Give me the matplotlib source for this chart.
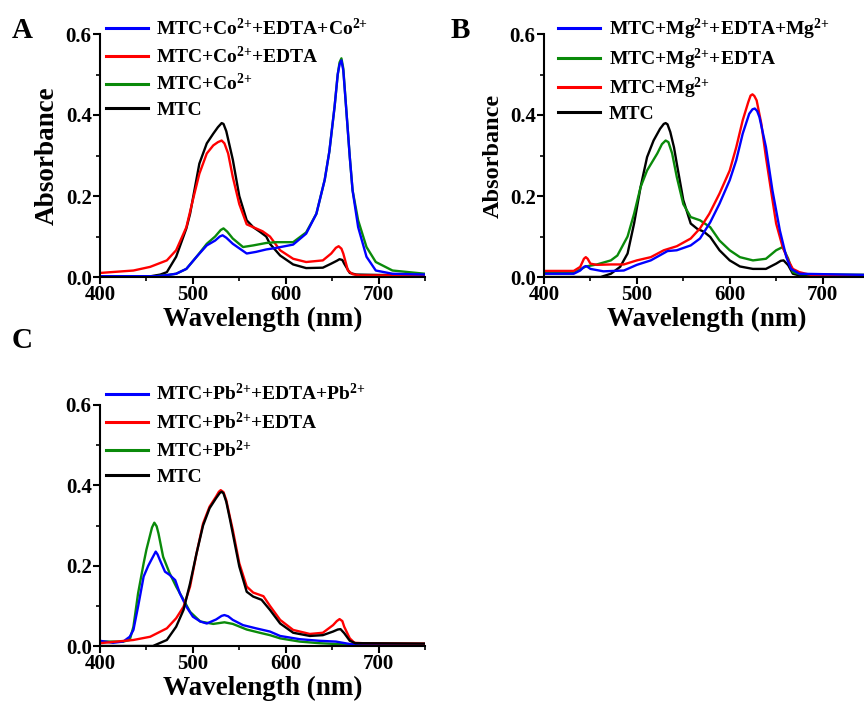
import matplotlib
matplotlib.use("Agg")
import matplotlib.pyplot as plt
from matplotlib.ticker import MultipleLocator, FormatStrFormatter

plt.rcParams['font.family'] = ['Liberation Serif', 'DejaVu Serif']
plt.rcParams['font.weight'] = 'bold'
plt.rcParams['mathtext.fontset'] = 'custom'
plt.rcParams['mathtext.rm'] = 'Liberation Serif:bold'
plt.rcParams['mathtext.it'] = 'Liberation Serif:bold:italic'
plt.rcParams['mathtext.bf'] = 'Liberation Serif:bold'
plt.rcParams['mathtext.default'] = 'rm'

# ---------------- Panel A (Co2+) ----------------
A_MTC_wl = [400, 455, 465, 472, 482, 493, 497, 507, 515, 522, 527, 531, 533, 536, 540, 543, 550, 558, 565, 572, 579, 583, 594, 608, 622, 640, 649, 655, 658, 661, 663, 669, 676, 700, 750]
A_MTC_abs = [0.002, 0.002, 0.006, 0.012, 0.05, 0.12, 0.156, 0.28, 0.33, 0.354, 0.37, 0.38, 0.378, 0.36, 0.32, 0.29, 0.2, 0.14, 0.123, 0.112, 0.1, 0.082, 0.053, 0.031, 0.022, 0.023, 0.033, 0.04, 0.044, 0.042, 0.033, 0.01, 0.006, 0.005, 0.005]

A_Co_wl = [400, 460, 470, 482, 493, 504, 515, 524, 530, 533, 537, 543, 554, 565, 579, 590, 608, 622, 633, 642, 647, 652.6, 656, 658, 660, 662, 665, 669, 672, 678, 687, 697, 715, 750]
A_Co_abs = [0.002, 0.002, 0.004, 0.008, 0.02, 0.05, 0.082, 0.1, 0.116, 0.12, 0.112, 0.095, 0.074, 0.078, 0.084, 0.086, 0.086, 0.11, 0.156, 0.24, 0.31, 0.42, 0.5, 0.53, 0.54, 0.515, 0.42, 0.296, 0.214, 0.14, 0.074, 0.037, 0.016, 0.008]

A_EDTA_wl = [400, 436, 454, 472, 482, 493, 500, 507, 515, 522, 527, 531, 534, 538, 543, 550, 558, 568, 575, 583, 594, 608, 622, 640, 649, 654, 657, 660, 662, 667, 672, 680, 750]
A_EDTA_abs = [0.01, 0.016, 0.025, 0.041, 0.066, 0.123, 0.19, 0.255, 0.305, 0.325, 0.333, 0.337, 0.33, 0.305, 0.247, 0.18, 0.13, 0.12, 0.113, 0.1, 0.066, 0.045, 0.037, 0.041, 0.058, 0.072, 0.076, 0.07, 0.058, 0.016, 0.007, 0.004, 0.004]

A_CoCo_wl = [400, 460, 470, 482, 493, 504, 515, 524, 529, 532, 536, 543, 558, 568, 579, 590, 608, 622, 633, 642, 647, 652.6, 656, 658, 660, 662, 665, 669, 672, 678, 687, 697, 715, 750]
A_CoCo_abs = [0.002, 0.002, 0.004, 0.008, 0.02, 0.05, 0.078, 0.09, 0.1, 0.103, 0.097, 0.082, 0.058, 0.062, 0.068, 0.072, 0.08, 0.107, 0.156, 0.24, 0.31, 0.42, 0.5, 0.525, 0.535, 0.51, 0.42, 0.296, 0.214, 0.123, 0.05, 0.016, 0.008, 0.006]

# ---------------- Panel B (Mg2+) ----------------
B_MTC_wl = [400, 461, 472, 482, 490, 497, 504, 511, 518, 525, 529, 531, 533, 536, 540, 543, 550, 558, 565, 572, 579, 589, 600, 611, 625, 639, 650, 655, 658, 663, 668, 675, 750]
B_MTC_abs = [0.0, 0.0, 0.008, 0.025, 0.058, 0.132, 0.222, 0.296, 0.337, 0.366, 0.378, 0.38, 0.377, 0.358, 0.32, 0.28, 0.19, 0.132, 0.119, 0.112, 0.099, 0.066, 0.041, 0.026, 0.02, 0.02, 0.033, 0.04, 0.041, 0.029, 0.008, 0.004, 0.005]

B_Mg_wl = [400, 432, 439, 443, 445, 447, 450, 457, 472, 486, 500, 515, 529, 543, 558, 568, 578, 589, 600, 607, 614, 620, 622.5, 624.5, 626.5, 629, 634, 639, 645, 650, 657, 663, 668, 675, 682, 690, 750]
B_Mg_abs = [0.015, 0.015, 0.025, 0.045, 0.049, 0.045, 0.033, 0.03, 0.031, 0.031, 0.041, 0.049, 0.066, 0.076, 0.095, 0.12, 0.156, 0.206, 0.263, 0.32, 0.387, 0.432, 0.448, 0.451, 0.447, 0.436, 0.379, 0.296, 0.206, 0.132, 0.074, 0.041, 0.02, 0.012, 0.008, 0.004, 0.004]

B_EDTA_wl = [400, 432, 445, 457, 472, 479, 490, 497, 504, 511, 522, 527, 531, 534, 538, 543, 550, 558, 568, 579, 589, 600, 611, 625, 639, 650, 657, 663, 668, 675, 750]
B_EDTA_abs = [0.01, 0.01, 0.026, 0.031, 0.041, 0.053, 0.1, 0.156, 0.222, 0.263, 0.305, 0.328, 0.337, 0.333, 0.305, 0.247, 0.18, 0.148, 0.14, 0.123, 0.09, 0.066, 0.049, 0.041, 0.045, 0.066, 0.074, 0.045, 0.012, 0.007, 0.005]

B_MgMg_wl = [400, 432, 439, 443, 445, 447, 450, 464, 486, 500, 515, 533, 543, 558, 568, 579, 589, 600, 607, 614, 621, 624.5, 627, 629.5, 632, 639, 646, 654, 661, 666, 675, 750]
B_MgMg_abs = [0.008, 0.008, 0.016, 0.025, 0.027, 0.025, 0.02, 0.014, 0.016, 0.03, 0.041, 0.064, 0.066, 0.078, 0.095, 0.135, 0.181, 0.239, 0.288, 0.354, 0.403, 0.414, 0.416, 0.41, 0.395, 0.321, 0.214, 0.115, 0.049, 0.02, 0.008, 0.005]

# ---------------- Panel C (Pb2+) ----------------
C_MTC_wl = [400, 457, 472, 482, 490, 497, 504, 511, 518, 525, 529, 531, 533, 536, 540, 543, 550, 558, 565, 574, 583, 594, 608, 626, 640, 651, 656, 659, 663, 669, 675, 750]
C_MTC_abs = [0.0, 0.0, 0.015, 0.048, 0.09, 0.156, 0.231, 0.3, 0.343, 0.368, 0.381, 0.384, 0.38, 0.359, 0.315, 0.28, 0.198, 0.135, 0.123, 0.115, 0.09, 0.056, 0.033, 0.025, 0.027, 0.036, 0.041, 0.042, 0.032, 0.013, 0.007, 0.006]

C_Pb_wl = [400, 425, 432, 436, 441, 447, 450, 456, 458.5, 461, 463, 468, 475, 482, 490, 497, 508, 522, 534, 543, 558, 572, 583, 594, 615, 636, 654, 680, 750]
C_Pb_abs = [0.011, 0.011, 0.015, 0.048, 0.131, 0.206, 0.24, 0.295, 0.307, 0.298, 0.28, 0.222, 0.181, 0.148, 0.115, 0.085, 0.061, 0.055, 0.059, 0.055, 0.041, 0.033, 0.027, 0.019, 0.011, 0.007, 0.005, 0.003, 0.003]

C_EDTA_wl = [400, 436, 454, 472, 482, 490, 497, 504, 511, 518, 525, 528, 530, 533, 536, 540, 543, 550, 558, 565, 576, 583, 594, 608, 626, 640, 651, 655, 658, 661, 663, 669, 674, 683, 750]
C_EDTA_abs = [0.007, 0.015, 0.023, 0.044, 0.069, 0.098, 0.148, 0.231, 0.305, 0.347, 0.372, 0.384, 0.388, 0.383, 0.363, 0.32, 0.289, 0.206, 0.148, 0.133, 0.124, 0.1, 0.065, 0.04, 0.03, 0.033, 0.052, 0.062, 0.067, 0.062, 0.048, 0.019, 0.008, 0.007, 0.006]

C_PbPb_wl = [400, 414, 425, 432, 436, 441, 447, 452, 457, 460, 462, 464.5, 470, 475, 481, 486, 493, 500, 508, 515, 525, 531, 534, 538, 543, 554, 568, 583, 594, 615, 636, 654, 669, 750]
C_PbPb_abs = [0.013, 0.008, 0.011, 0.023, 0.04, 0.098, 0.173, 0.2, 0.222, 0.235, 0.228, 0.214, 0.185, 0.177, 0.164, 0.131, 0.098, 0.073, 0.061, 0.056, 0.066, 0.075, 0.077, 0.074, 0.065, 0.052, 0.044, 0.036, 0.025, 0.017, 0.013, 0.011, 0.005, 0.004]

BLUE, RED, GREEN, BLACK = '#0000ff', '#ff0000', '#0a8a0a', '#000000'
LW = 1.7

fig = plt.figure(figsize=(8.64, 7.02), dpi=100)

def style(ax, ylabel=None, ylabel_size=19):
    ax.set_xlim(400, 750)
    ax.set_ylim(0, 0.6)
    ax.xaxis.set_major_locator(MultipleLocator(100))
    ax.xaxis.set_minor_locator(MultipleLocator(50))
    ax.yaxis.set_major_locator(MultipleLocator(0.2))
    ax.yaxis.set_minor_locator(MultipleLocator(0.1))
    ax.yaxis.set_major_formatter(FormatStrFormatter('%.1f'))
    for s in ['top', 'right']:
        ax.spines[s].set_visible(False)
    for s in ['left', 'bottom']:
        ax.spines[s].set_linewidth(1.5)
    ax.tick_params(which='major', direction='out', length=5, width=1.5, labelsize=15, pad=1)
    ax.tick_params(which='minor', direction='out', length=3, width=1.2)
    for lab in ax.get_xticklabels() + ax.get_yticklabels():
        lab.set_fontweight('bold')
    ax.set_xlabel('Wavelength (nm)', fontsize=19.5, fontweight='bold', labelpad=1)
    if ylabel:
        ax.set_ylabel(ylabel, fontsize=ylabel_size, fontweight='bold', labelpad=4)

def draw(ax, series, order, anchor, spacing):
    handles = {}
    for key in order:
        wl, ab, col, lab = series[key]
        h, = ax.plot(wl, ab, color=col, lw=LW, label=lab, solid_joinstyle='round')
        handles[key] = h
    legend_keys = [k for k in series]
    leg = ax.legend([handles[k] for k in legend_keys], [series[k][3] for k in legend_keys],
                    loc='upper left', bbox_to_anchor=anchor, frameon=False,
                    prop={'family': 'Liberation Serif', 'weight': 'bold', 'size': 14},
                    handlelength=2.15, handletextpad=0.45, labelspacing=spacing,
                    borderpad=0, borderaxespad=0)
    for line in leg.get_lines():
        line.set_linewidth(2.2)

def ion(sym):
    return sym + '$^{2{+}}$'

# Panel A
axA = fig.add_axes([100/864, 1 - 277/702, 325/864, 243/702])
seriesA = {
    'b': (A_CoCo_wl, A_CoCo_abs, BLUE, 'MTC+' + ion('Co') + '+EDTA+' + ion('Co')),
    'r': (A_EDTA_wl, A_EDTA_abs, RED, 'MTC+' + ion('Co') + '+EDTA'),
    'g': (A_Co_wl, A_Co_abs, GREEN, 'MTC+' + ion('Co')),
    'k': (A_MTC_wl, A_MTC_abs, BLACK, 'MTC'),
}
draw(axA, seriesA, ['k', 'r', 'g', 'b'], (0.018, 1.067), 0.34)
style(axA, 'Absorbance', 19.5)

# Panel B
axB = fig.add_axes([544/864, 1 - 277/702, 325/864, 243/702])
seriesB = {
    'b': (B_MgMg_wl, B_MgMg_abs, BLUE, 'MTC+' + ion('Mg') + '+EDTA+' + ion('Mg')),
    'g': (B_EDTA_wl, B_EDTA_abs, GREEN, 'MTC+' + ion('Mg') + '+EDTA'),
    'r': (B_Mg_wl, B_Mg_abs, RED, 'MTC+' + ion('Mg')),
    'k': (B_MTC_wl, B_MTC_abs, BLACK, 'MTC'),
}
draw(axB, seriesB, ['k', 'g', 'r', 'b'], (0.043, 1.07), 0.22)
style(axB, 'Absorbance', 17.5)

# Panel C
axC = fig.add_axes([100/864, 1 - 646/702, 325/864, 241/702])
seriesC = {
    'b': (C_PbPb_wl, C_PbPb_abs, BLUE, 'MTC+' + ion('Pb') + '+EDTA+' + ion('Pb')),
    'r': (C_EDTA_wl, C_EDTA_abs, RED, 'MTC+' + ion('Pb') + '+EDTA'),
    'g': (C_Pb_wl, C_Pb_abs, GREEN, 'MTC+' + ion('Pb')),
    'k': (C_MTC_wl, C_MTC_abs, BLACK, 'MTC'),
}
draw(axC, seriesC, ['g', 'b', 'r', 'k'], (0.018, 1.09), 0.37)
style(axC, None)

for txt, x, y in [('A', 22, 30), ('B', 460, 30), ('C', 22, 341)]:
    fig.text(x/864, 1 - y/702, txt, fontsize=21, fontweight='bold',
             ha='center', va='center', family='Liberation Serif')

fig.savefig('out.png', dpi=100)
